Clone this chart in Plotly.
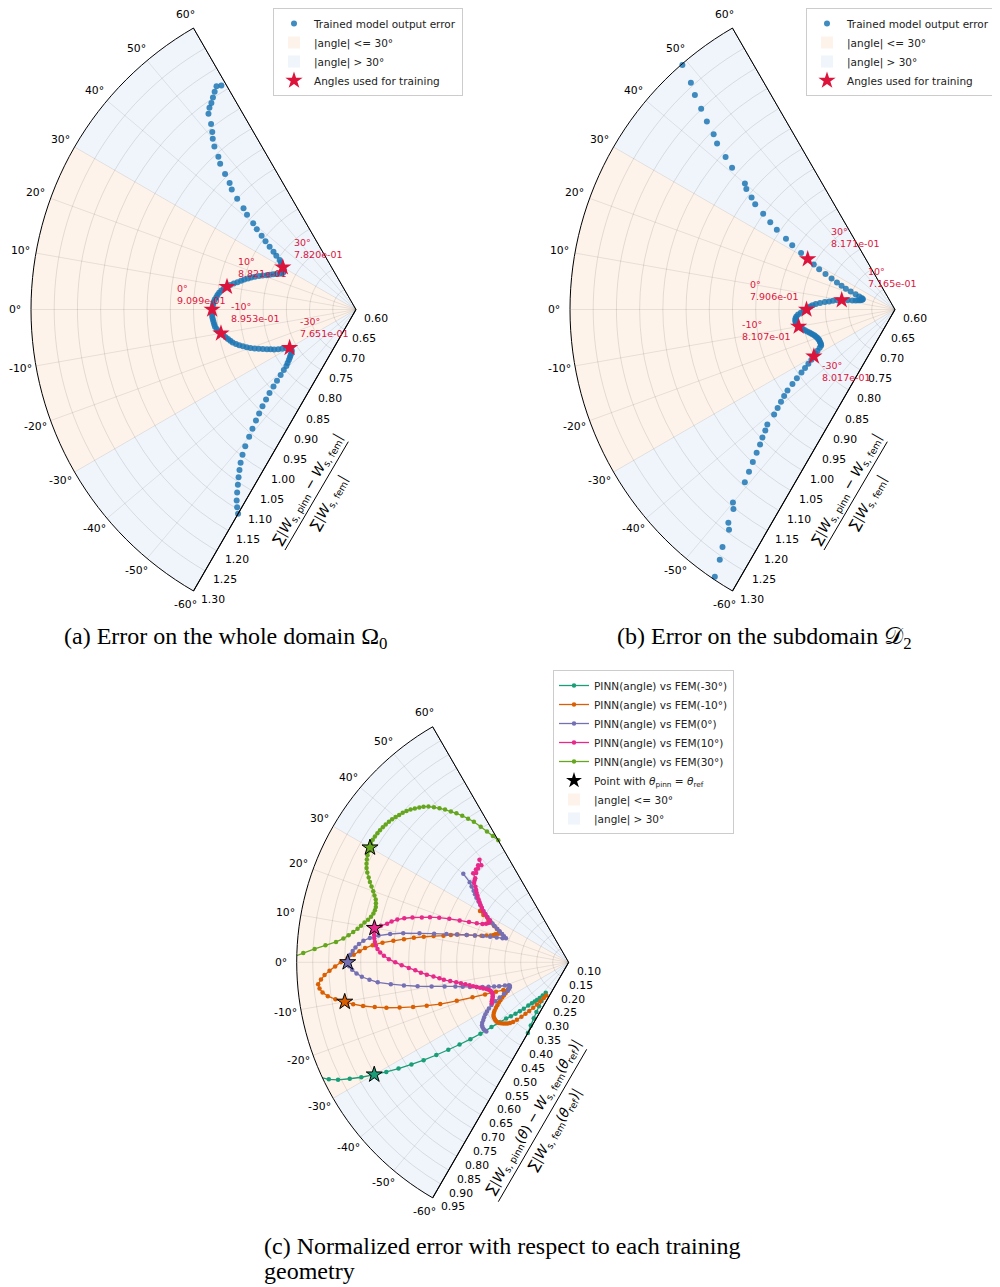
import math
import plotly.graph_objects as go

FIG_W, FIG_H = 1000, 1287
PAGE_OFF = 8  # default page body margin (px) before the figure div

# ---------------- (a) error on the whole domain ----------------
theta_a = list(range(-60, 60))
err_a = [
    1.108, 1.097, 1.085, 1.070, 1.055, 1.041, 1.027, 1.013, 0.997, 0.979,   # -60..-51
    0.958, 0.940, 0.922, 0.906, 0.890, 0.874, 0.859, 0.843, 0.829, 0.815,   # -50..-41
    0.803, 0.793, 0.787, 0.781, 0.776, 0.772, 0.768, 0.765, 0.764, 0.764,   # -40..-31
    0.7651, 0.772, 0.780, 0.788, 0.796, 0.803, 0.810, 0.818, 0.826, 0.834,  # -30..-21
    0.842, 0.849, 0.856, 0.863, 0.869, 0.875, 0.879, 0.883, 0.887, 0.891,   # -20..-11
    0.8953, 0.900, 0.903, 0.906, 0.907, 0.908, 0.909, 0.910, 0.910, 0.910,  # -10..-1
    0.9099, 0.909, 0.908, 0.907, 0.905, 0.902, 0.900, 0.897, 0.893, 0.888,  # 0..9
    0.8821, 0.876, 0.869, 0.862, 0.855, 0.849, 0.842, 0.836, 0.829, 0.821,  # 10..19
    0.814, 0.806, 0.800, 0.794, 0.788, 0.782, 0.778, 0.776, 0.776, 0.778,   # 20..29
    0.7820, 0.787, 0.791, 0.796, 0.807, 0.817, 0.830, 0.844, 0.858, 0.875,  # 30..39
    0.889, 0.911, 0.926, 0.950, 0.972, 0.985, 1.006, 1.029, 1.043, 1.065,   # 40..49
    1.080, 1.092, 1.107, 1.128, 1.137, 1.143, 1.151, 1.159, 1.167, 1.163,   # 50..59
]

# ---------------- (b) error on the subdomain ----------------
theta_b = list(range(-56, 50))
err_b = [
    1.294, 1.258, 1.232, 1.194, 1.183, 1.153, 1.143, 1.093, 1.070, 1.049,   # -56..-47
    1.029, 1.011, 0.997, 0.982, 0.970, 0.945, 0.930, 0.916, 0.903, 0.890,   # -46..-37
    0.873, 0.858, 0.843, 0.831, 0.820, 0.810, 0.8017, 0.796, 0.789, 0.782,  # -36..-27
    0.777, 0.776, 0.776, 0.776, 0.776, 0.777, 0.778, 0.780, 0.782, 0.785,   # -26..-17
    0.788, 0.791, 0.795, 0.799, 0.803, 0.807, 0.8107, 0.813, 0.815, 0.816,  # -16..-7
    0.816, 0.815, 0.813, 0.809, 0.803, 0.797, 0.7906, 0.787, 0.783, 0.778,  # -6..3
    0.771, 0.762, 0.752, 0.743, 0.735, 0.726, 0.7165, 0.704, 0.694, 0.687,  # 4..13
    0.682, 0.678, 0.675, 0.673, 0.673, 0.676, 0.682, 0.691, 0.703, 0.715,   # 14..23
    0.726, 0.738, 0.752, 0.768, 0.785, 0.800, 0.8171, 0.836, 0.861, 0.880,  # 24..33
    0.907, 0.928, 0.951, 0.977, 0.992, 1.012, 1.022, 1.065, 1.091, 1.124,   # 34..43
    1.143, 1.173, 1.201, 1.232, 1.257, 1.298,                               # 44..49
]

train_angles = [-30, -10, 0, 10, 30]

# ---------------- (c) normalized error per training geometry ----------------
ref_labels = ["-30", "-10", "0", "10", "30"]
theta_c_m30 = list(range(-60, -23))
err_c_m30 = [
    0.355, 0.330, 0.306, 0.285, 0.266, 0.248, 0.232, 0.219, 0.232, 0.244,
    0.254, 0.262, 0.272, 0.285, 0.302, 0.316, 0.331, 0.347, 0.363, 0.385,
    0.415, 0.455, 0.490, 0.527, 0.565, 0.605, 0.647, 0.686, 0.727, 0.765,
    0.8017, 0.841, 0.875, 0.909, 0.934, 0.952, 0.975,
]
theta_c_m10 = list(range(-56, 31))
err_c_m10 = [
    0.225, 0.236, 0.250, 0.265, 0.280, 0.296, 0.310, 0.325, 0.342, 0.355,
    0.364, 0.370, 0.375, 0.380, 0.385, 0.389, 0.391, 0.392, 0.392, 0.391,
    0.390, 0.387, 0.382, 0.376, 0.368, 0.360, 0.352, 0.344, 0.335, 0.327,
    0.319, 0.312, 0.308, 0.322, 0.345, 0.380, 0.420, 0.470, 0.522, 0.564,
    0.606, 0.647, 0.687, 0.722, 0.757, 0.786, 0.8107, 0.838, 0.860, 0.875,
    0.883, 0.886, 0.876, 0.864, 0.848, 0.830, 0.812, 0.792, 0.772, 0.755,
    0.738, 0.715, 0.685, 0.652, 0.620, 0.590, 0.560, 0.530, 0.500, 0.478,
    0.458, 0.430, 0.405, 0.385, 0.370, 0.358, 0.350, 0.345, 0.338, 0.333,
    0.338, 0.348, 0.360, 0.372, 0.385, 0.405, 0.420,
]
theta_c_0 = list(range(-40, 41))
err_c_0 = [
    0.436, 0.438, 0.438, 0.437, 0.435, 0.430, 0.422, 0.415, 0.407, 0.398,
    0.388, 0.376, 0.360, 0.342, 0.325, 0.310, 0.304, 0.300, 0.298, 0.300,
    0.312, 0.330, 0.345, 0.362, 0.380, 0.398, 0.418, 0.440, 0.462, 0.495,
    0.535, 0.578, 0.620, 0.660, 0.700, 0.725, 0.748, 0.764, 0.777, 0.786,
    0.7906, 0.790, 0.783, 0.776, 0.768, 0.758, 0.745, 0.726, 0.700, 0.665,
    0.625, 0.575, 0.530, 0.492, 0.460, 0.430, 0.405, 0.380, 0.358, 0.338,
    0.320, 0.310, 0.318, 0.326, 0.336, 0.346, 0.357, 0.367, 0.378, 0.390,
    0.400, 0.410, 0.420, 0.430, 0.440, 0.452, 0.462, 0.472, 0.485, 0.498,
    0.530,
]
theta_c_10 = list(range(-28, 50))
err_c_10 = [
    0.372, 0.370, 0.366, 0.362, 0.360, 0.358, 0.357, 0.358, 0.360, 0.364,
    0.370, 0.379, 0.388, 0.398, 0.408, 0.418, 0.430, 0.443, 0.457, 0.475,
    0.494, 0.507, 0.525, 0.545, 0.563, 0.580, 0.600, 0.622, 0.642, 0.662,
    0.678, 0.690, 0.699, 0.705, 0.709, 0.712, 0.714, 0.715, 0.7165, 0.698,
    0.680, 0.668, 0.652, 0.632, 0.608, 0.580, 0.556, 0.528, 0.497, 0.465,
    0.436, 0.412, 0.395, 0.385, 0.380, 0.378, 0.380, 0.392, 0.402, 0.412,
    0.420, 0.428, 0.436, 0.444, 0.452, 0.460, 0.467, 0.475, 0.486, 0.490,
    0.493, 0.508, 0.502, 0.510, 0.508, 0.515, 0.508, 0.525,
]
theta_c_30 = list(range(1, 61))
err_c_30 = [
    0.965, 0.930, 0.895, 0.862, 0.830, 0.808, 0.793, 0.780, 0.768, 0.759,
    0.750, 0.741, 0.734, 0.729, 0.727, 0.727, 0.730, 0.734, 0.742, 0.750,
    0.760, 0.770, 0.779, 0.789, 0.797, 0.803, 0.808, 0.812, 0.815, 0.8171,
    0.821, 0.822, 0.822, 0.821, 0.820, 0.818, 0.816, 0.813, 0.810, 0.806,
    0.802, 0.798, 0.793, 0.787, 0.780, 0.772, 0.765, 0.755, 0.742, 0.728,
    0.714, 0.698, 0.683, 0.666, 0.648, 0.630, 0.605, 0.582, 0.560, 0.540,
]

angular_ticks = list(range(-60, 61, 10))
radial_ticks_ab = [round(0.60 + 0.05 * i, 2) for i in range(15)]
radial_ticks_c = [round(0.10 + 0.05 * i, 2) for i in range(18)]

# ---------------- styles / layout constants (screen px) ----------------
SPEC = {
    "a": dict(cx=356.0, cy=309.5, R=325.0, rrange=(0.60, 1.30)),
    "b": dict(cx=895.0, cy=309.5, R=325.0, rrange=(0.60, 1.30)),
    "c": dict(cx=568.7, cy=962.3, R=272.0, rrange=(0.10, 0.95)),
}
ORANGE_BG = "rgba(240,140,60,0.10)"
BLUE_BG = "rgba(60,130,220,0.08)"
DOT = "rgba(31,119,180,0.85)"
CRIMSON = "#DC143C"
DARK2 = ["#1b9e77", "#d95f02", "#7570b3", "#e7298a", "#66a61e"]
GRID = "rgba(0,0,0,0.11)"
SANS = "DejaVu Sans"
SERIF = "Liberation Serif"
TICK_FONT = dict(family=SANS, size=10.8, color="black")
ANG_LABEL_PAD = 16      # px beyond the outer arc
RAD_LABEL_OFF = (7, 9)  # px right / down of the tick point on the -60° edge

LABEL_OFF_A = {30: (10, 6), 10: (10, 7), 0: (-36, 3), -10: (9, 8), -30: (9, 8)}
LABEL_OFF_B = {30: (22, 9), 10: (25, 10), 0: (-58, 7), -10: (-58, -17), -30: (7, -28)}


def paper(x, y):
    return (x - PAGE_OFF) / FIG_W, 1 - (y - PAGE_OFF) / FIG_H


def polar_domain(s):
    h = s["R"] * math.sin(math.radians(60))
    x0, y0 = paper(s["cx"] - s["R"], s["cy"] + h)
    x1, y1 = paper(s["cx"], s["cy"] - h)
    return dict(x=[x0, x1], y=[y0, y1])


def at_dist(theta, d, s):
    a = math.radians(180 - theta)
    return s["cx"] + d * math.cos(a), s["cy"] - d * math.sin(a)


def to_px(theta, r, s):
    r0, r1 = s["rrange"]
    return at_dist(theta, (r - r0) / (r1 - r0) * s["R"], s)


def polar_layout(s, rticks):
    return dict(
        domain=polar_domain(s),
        sector=[120, 240],
        bgcolor="rgba(0,0,0,0)",
        angularaxis=dict(
            rotation=180, direction="clockwise",
            showline=True, linecolor="black", linewidth=1,
            showgrid=False, ticks="", showticklabels=False,
        ),
        radialaxis=dict(
            range=list(s["rrange"]), angle=240,
            tickmode="array", tickvals=rticks,
            showline=True, linecolor="black", linewidth=1,
            showgrid=True, gridcolor=GRID, gridwidth=0.8, ticks="",
            showticklabels=False,
        ),
    )


fig = go.Figure()
annotations = []
shapes = []


def add_frame(subplot, s, legend, rank_base, rticks):
    r0, r1 = s["rrange"]
    span = r1 - r0
    # angular grid spokes
    for t in angular_ticks[1:-1]:
        fig.add_trace(go.Scatterpolar(
            r=[r0, r1], theta=[t, t], mode="lines", subplot=subplot,
            line=dict(color=GRID, width=0.8), showlegend=False, hoverinfo="skip"))
    fig.add_trace(go.Barpolar(
        r=[span], base=[r0], theta=[0], width=[60], subplot=subplot,
        marker=dict(color=ORANGE_BG, line=dict(width=0)),
        name="|angle| <= 30°", legend=legend, legendrank=rank_base, hoverinfo="skip"))
    fig.add_trace(go.Barpolar(
        r=[span, span], base=[r0, r0], theta=[45, -45], width=[30, 30], subplot=subplot,
        marker=dict(color=BLUE_BG, line=dict(width=0)),
        name="|angle| > 30°", legend=legend, legendrank=rank_base + 1, hoverinfo="skip"))
    fig.add_trace(go.Scatterpolar(
        r=[r0, r1], theta=[60, 60], mode="lines", subplot=subplot,
        line=dict(color="black", width=1), showlegend=False, hoverinfo="skip"))
    # angular tick labels
    for t in angular_ticks:
        x, y = at_dist(t, s["R"] + ANG_LABEL_PAD, s)
        px, py = paper(x, y)
        annotations.append(dict(x=px, y=py, xref="paper", yref="paper", showarrow=False,
                                text=f"{t}°", xanchor="center", yanchor="middle",
                                borderpad=0, font=TICK_FONT))
    # radial tick labels along the -60° edge
    for v in rticks:
        x, y = to_px(-60, v, s)
        px, py = paper(x + RAD_LABEL_OFF[0], y + RAD_LABEL_OFF[1])
        annotations.append(dict(x=px, y=py, xref="paper", yref="paper", showarrow=False,
                                text=f"{v:.2f}", xanchor="left", yanchor="middle",
                                borderpad=0, font=TICK_FONT))


# ---- panels (a) and (b)
for key, subplot, legend, th, er, offs in [
    ("a", "polar", "legend", theta_a, err_a, LABEL_OFF_A),
    ("b", "polar2", "legend2", theta_b, err_b, LABEL_OFF_B),
]:
    s = SPEC[key]
    add_frame(subplot, s, legend, 2, radial_ticks_ab)
    fig.add_trace(go.Scatterpolar(
        r=er, theta=th, mode="markers", subplot=subplot,
        marker=dict(color=DOT, size=6, line=dict(width=0)),
        name="Trained model output error", legend=legend, legendrank=1))
    star_r = [er[th.index(t)] for t in train_angles]
    fig.add_trace(go.Scatterpolar(
        r=star_r, theta=train_angles, mode="markers", subplot=subplot,
        marker=dict(color=CRIMSON, size=13, symbol="star", line=dict(width=0)),
        name="Angles used for training", legend=legend, legendrank=4))
    for t, v in zip(train_angles, star_r):
        x, y = to_px(t, v, s)
        px, py = paper(x, y)
        dx, dy = offs[t]
        annotations.append(dict(
            x=px, y=py, xref="paper", yref="paper", showarrow=False,
            text=f"{t}°<br>{v:.3e}", xanchor="left", yanchor="bottom",
            xshift=dx, yshift=dy, align="left", borderpad=0,
            font=dict(family=SANS, size=9.5, color=CRIMSON)))

# ---- panel (c)
s = SPEC["c"]
add_frame("polar3", s, "legend3", 7, radial_ticks_c)
series_c = [(theta_c_m30, err_c_m30), (theta_c_m10, err_c_m10), (theta_c_0, err_c_0),
            (theta_c_10, err_c_10), (theta_c_30, err_c_30)]
for i, ((th, er), lab) in enumerate(zip(series_c, ref_labels)):
    fig.add_trace(go.Scatterpolar(
        r=er, theta=th, mode="lines+markers", subplot="polar3",
        line=dict(color=DARK2[i], width=1.3),
        marker=dict(color=DARK2[i], size=4.5),
        name=f"PINN(angle) vs FEM({lab}°)", legend="legend3", legendrank=1 + i))
for i, ((th, er), t) in enumerate(zip(series_c, train_angles)):
    fig.add_trace(go.Scatterpolar(
        r=[er[th.index(t)]], theta=[t], mode="markers", subplot="polar3",
        marker=dict(color=DARK2[i], size=12, symbol="star", line=dict(color="black", width=1)),
        showlegend=False, hoverinfo="skip"))
fig.add_trace(go.Scatterpolar(
    r=[None], theta=[None], mode="markers", subplot="polar3",
    marker=dict(color="black", size=12, symbol="star"),
    name="Point with <i>θ</i><sub>pinn</sub> = <i>θ</i><sub>ref</sub>",
    legend="legend3", legendrank=6))

# ---- radial-axis titles (fractions), positions in screen px
TITLES = [
    dict(p0=(285, 550), p1=(348.3, 441.7), num_c=(308, 489), den_c=(329, 503),
         num="∑|<i>W</i><sub>s, pinn</sub> − <i>W</i><sub>s, fem</sub>|",
         den="∑|<i>W</i><sub>s, fem</sub>|"),
    dict(p0=(824, 550), p1=(887.3, 441.7), num_c=(847, 489), den_c=(868, 503),
         num="∑|<i>W</i><sub>s, pinn</sub> − <i>W</i><sub>s, fem</sub>|",
         den="∑|<i>W</i><sub>s, fem</sub>|"),
    dict(p0=(498.3, 1201.7), p1=(586.7, 1049.3), num_c=(534, 1117.3), den_c=(555, 1130),
         num="∑|<i>W</i><sub>s, pinn</sub>(<i>θ</i>) − <i>W</i><sub>s, fem</sub>(<i>θ</i><sub>ref</sub>)|",
         den="∑|<i>W</i><sub>s, fem</sub>(<i>θ</i><sub>ref</sub>)|"),
]
for T in TITLES:
    x0, y0 = paper(*T["p0"])
    x1, y1 = paper(*T["p1"])
    shapes.append(dict(type="line", xref="paper", yref="paper", x0=x0, y0=y0, x1=x1, y1=y1,
                       line=dict(color="black", width=1)))
    for txt, c in [(T["num"], T["num_c"]), (T["den"], T["den_c"])]:
        px, py = paper(*c)
        annotations.append(dict(
            x=px, y=py, xref="paper", yref="paper", showarrow=False, text=txt,
            textangle=-60, xanchor="center", yanchor="middle",
            font=dict(family=SANS, size=13.5, color="black")))

# ---- captions
cap_font = dict(family=SERIF, size=24, color="black")
for txt, (cx, cy), xa in [
    ("(a) Error on the whole domain Ω<sub>0</sub>", (225, 638), "center"),
    ("(b) Error on the subdomain 𝒟<sub>2</sub>", (764, 638), "center"),
    ("(c) Normalized error with respect to each training", (262, 1246), "left"),
    ("geometry", (262, 1271), "left"),
]:
    px, py = paper(cx, cy)
    annotations.append(dict(x=px, y=py, xref="paper", yref="paper", showarrow=False,
                            xanchor=xa, yanchor="middle", align="left", text=txt,
                            font=cap_font))

legend_style = dict(bgcolor="white", bordercolor="#cccccc", borderwidth=1,
                    font=dict(family=SANS, size=10.5, color="#222"),
                    xanchor="left", yanchor="top", traceorder="normal")
lx_a, _ = paper(273, 0)
lx_b, _ = paper(806, 0)
lx_c, ly_c = paper(553, 670)

fig.update_layout(
    width=FIG_W, height=FIG_H,
    margin=dict(l=0, r=0, t=0, b=0, pad=0),
    paper_bgcolor="white", plot_bgcolor="white",
    polar=polar_layout(SPEC["a"], radial_ticks_ab),
    polar2=polar_layout(SPEC["b"], radial_ticks_ab),
    polar3=polar_layout(SPEC["c"], radial_ticks_c),
    legend=dict(x=lx_a, y=1.0, **legend_style),
    legend2=dict(x=lx_b, y=1.0, **legend_style),
    legend3=dict(x=lx_c, y=ly_c, **legend_style),
    annotations=annotations,
    shapes=shapes,
    showlegend=True,
)

fig.write_html("out.html")
